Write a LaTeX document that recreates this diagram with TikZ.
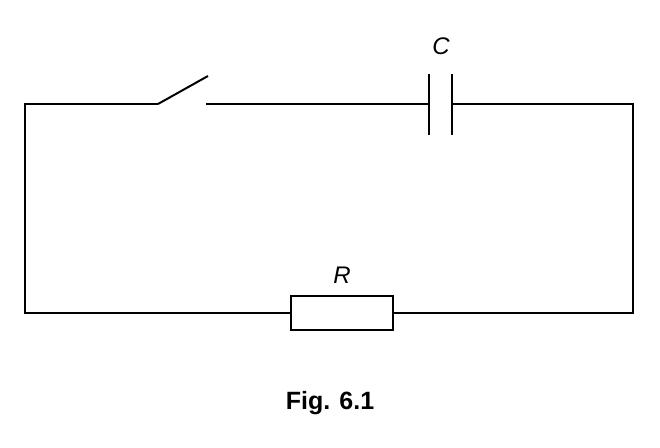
\documentclass[tikz,border=0pt]{standalone}
\usepackage{fontspec}
\setmainfont{Liberation Sans}
\begin{document}
\begin{tikzpicture}[x=1pt,y=-1pt,line width=2pt,
  lbl/.style={font=\fontsize{24}{28}\selectfont\itshape, inner sep=0pt},
  figcap/.style={font=\fontsize{25}{30}\selectfont\bfseries, inner sep=0pt}]
\useasboundingbox (0,0) rectangle (660,447);
\coordinate (tl) at (25,104);
\coordinate (bl) at (25,313);
\coordinate (tr) at (633,104);
\coordinate (br) at (633,313);
\coordinate (s1) at (158,104);
\coordinate (s2) at (208,76);
\coordinate (s3) at (206,104);
\coordinate (c1) at (429,104);
\coordinate (c2) at (452,104);
\coordinate (r1) at (291,313);
\coordinate (r2) at (393,313);
\draw (s1) -- (tl) -- (bl) -- (r1);
\draw (s1) -- (s2);
\draw (s3) -- (c1);
\draw (429,74) -- (429,135);
\draw (452,74) -- (452,135);
\draw (c2) -- (tr) -- (br) -- (r2);
\node[draw, minimum width=102pt, minimum height=34pt, inner sep=0pt] (R) at (342,313) {};
\node[lbl] (Cl) at (441,46) {C};
\node[lbl] (Rl) at (342,275) {R};
\node[figcap] (fig) at (330,403) {Fig. 6.1};
\end{tikzpicture}
\end{document}
